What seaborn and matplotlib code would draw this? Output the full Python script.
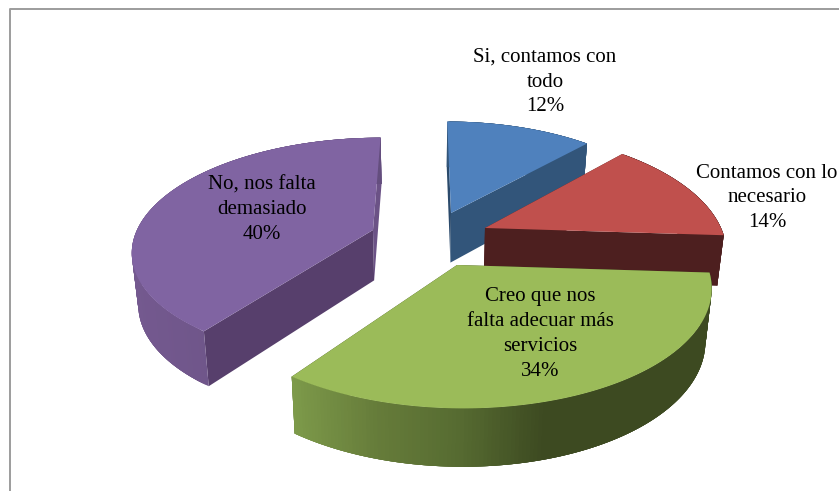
import numpy as np
import seaborn as sns
import matplotlib.pyplot as plt

# datos del grafico
labels = ['Si, contamos con\ntodo', 'Contamos con lo\nnecesario',
          'Creo que nos\nfalta adecuar más\nservicios', 'No, nos falta\ndemasiado']
values = [12, 14, 34, 40]
top_colors = ['#4f81bd', '#c0504d', '#9bbb59', '#8064a2']
face_colors = ['#2b4a6b', '#4d1f1f', '#3d4a21', '#573f6c']
end_face_colors = ['#32557a', '#4d1f1f', '#3d4a21', '#6b5286']
wall_colors = [
    ['#32557a', '#32557a'],
    ['#4d1f1f', '#4d1f1f'],
    ['#7d9a4a', '#667c3a', '#566b31', '#3d4a21', '#3d4a21', '#3d4a21'],
    ['#74598f', '#644e7e'],
]

# posicion de cada porcion (en pixeles de la imagen)
apex_x = [451, 485, 457, 373]
apex_y = [213, 228, 265, 230]
radius_x = [228, 236, 250, 236]
radius_y = [107, 114, 119, 108]
label_x = [545, 767, 540, 262]
label_y = [82, 198, 334, 210]

VANISH_X = 425
PERSP = 0.17

sns.set_theme(style='white')
plt.rcParams['font.family'] = ['Liberation Serif', 'DejaVu Serif']

fig = plt.figure(figsize=(8.39, 4.91), dpi=100)
ax = fig.add_axes([0, 0, 1, 1])
ax.set_xlim(0, 839)
ax.set_ylim(491, 0)
ax.axis('off')

# marco gris del grafico
ax.plot([10, 10, 839], [491, 9, 9], color='#9c9c9c', lw=1.4)


def project(i, t):
    s = 1 / (1 + PERSP * np.cos(t))
    x = VANISH_X + (apex_x[i] - VANISH_X + radius_x[i] * np.sin(t)) * s
    y = apex_y[i] - radius_y[i] * np.cos(t) * s
    return x, y


def drop(x, y):
    # cara inferior: baja y converge un poco hacia el centro
    return VANISH_X + (x - VANISH_X) * 0.978, y + 40 + 0.045 * y


def poly(xs, ys, color, z):
    ax.fill(xs, ys, color=color, lw=0, zorder=z)


edges = np.cumsum([0] + values) / sum(values) * 2 * np.pi
# orden de dibujo, de atras hacia adelante
for z, i in enumerate([0, 1, 3, 2]):
    base = 10 * (z + 1)
    t = np.linspace(edges[i], edges[i + 1], 160)
    x, y = project(i, t)
    bx, by = drop(x, y)
    ax0, ay0 = apex_x[i], apex_y[i]
    bx0, by0 = drop(ax0, ay0)

    # caras radiales, primero la que queda mas atras
    start_face = ([ax0, x[0], bx[0], bx0], [ay0, y[0], by[0], by0], face_colors[i])
    end_face = ([ax0, x[-1], bx[-1], bx0], [ay0, y[-1], by[-1], by0], end_face_colors[i])
    pair = [start_face, end_face] if np.cos(edges[i]) > np.cos(edges[i + 1]) else [end_face, start_face]
    for n, face in enumerate(pair):
        poly(*face, base + n)

    # pared curva con degradado, franjas solapadas para que no se noten las uniones
    pal = sns.blend_palette(wall_colors[i], 256)
    for k in range(len(t) - 1):
        m = min(k + 4, len(t) - 1)
        pos = ((x[k] + x[k + 1]) / 2 - x.min()) / (x.max() - x.min())
        xs = np.r_[x[k:m + 1], bx[k:m + 1][::-1]]
        ys = np.r_[y[k:m + 1], by[k:m + 1][::-1]]
        poly(xs, ys, pal[int(pos * 255)], base + 2)

    # cara superior
    poly(np.r_[ax0, x], np.r_[ay0, y], top_colors[i], base + 3)

for i in range(len(labels)):
    ax.text(label_x[i], label_y[i], f'{labels[i]}\n{values[i]}%', ha='center', va='center',
            fontsize=15, color='black', linespacing=1.41, zorder=100)

plt.savefig('out.png', dpi=100)
plt.close()
